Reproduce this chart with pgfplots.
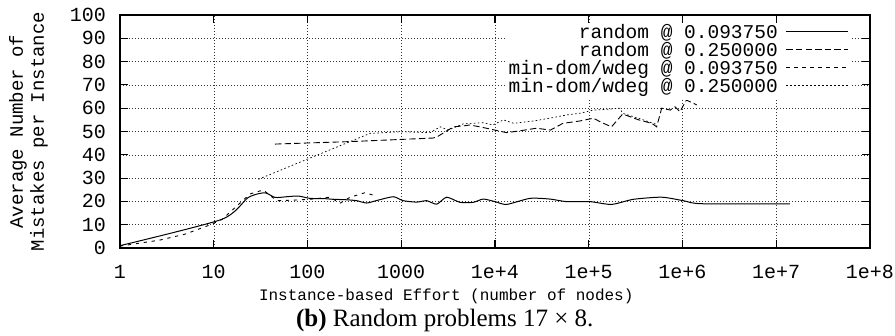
\documentclass[border=0pt]{standalone}
\usepackage{pgfplots}
\pgfplotsset{compat=1.18}
\usepackage{fontspec}
\setmainfont{Liberation Serif}
\newfontfamily\mono{Liberation Mono}

\begin{document}
\begin{tikzpicture}
\useasboundingbox (0,0) rectangle (895pt,336pt);
\begin{axis}[
  at={(120pt,88pt)}, anchor=south west,
  scale only axis, width=750pt, height=233pt,
  clip mode=individual,
  xmode=log, xmin=1, xmax=1e8, ymin=0, ymax=100,
  xtick={1,10,100,1000,1e4,1e5,1e6,1e7,1e8},
  xticklabels={1,10,100,1000,1e+4,1e+5,1e+6,1e+7,1e+8},
  ytick={0,10,...,100},
  xminorticks=false, yminorticks=false,
  tick align=inside, major tick length=8pt,
  every tick/.style={black, line width=1.1pt},
  axis line style={line width=1.6pt},
  grid=major,
  major grid style={black!80, line width=0.5pt, dash pattern=on 1pt off 2pt},
  /pgf/number format/assume math mode=true,
  ticklabel style={font=\mono\fontsize{20}{20}\selectfont},
  xticklabel style={inner sep=0pt, yshift=-17pt},
  yticklabel style={inner sep=0pt, xshift=-14pt},
  ylabel={Average Number of\\Mistakes per Instance},
  ylabel style={align=center, font=\mono\fontsize{19}{21}\selectfont, at={(axis description cs:-0.122,0.5)}, anchor=center},
  xlabel={Instance-based Effort (number of nodes)},
  xlabel style={font=\mono\fontsize{16}{16}\selectfont, at={(axis description cs:0.435,-0.206)}, anchor=center},
  legend style={at={(0.9747,0.96)}, anchor=north east, draw=none, fill=white, inner sep=2pt,
    font=\mono\fontsize{19.5}{19.5}\selectfont, row sep=0pt, column sep=8pt,
    nodes={inner sep=0pt, text height=12.3pt, text depth=5.6pt}},
  legend cell align=right, legend plot pos=right,
  legend image code/.code={\draw[#1] (0pt,4pt) -- (62pt,4pt);},
]
\addplot[black, line width=1pt, smooth, tension=0.4] table {
x y
1 1
12.2 12.3
23.4 21.7
35 23.7
45 21.7
60 22.0
80 22.3
106 21.3
150 21.2
187 20.9
260 20.7
335 20.3
427 19.3
550 20.4
822 22.0
1050 20.3
1460 19.7
1870 20.3
2390 18.8
3050 21.8
4230 19.6
5870 19.6
7500 21.0
1e4 19.9
1.33e4 18.7
2.36e4 21.3
3.86e4 21.0
5.8e4 19.9
1.03e5 19.9
1.75e5 18.7
3e5 20.9
6e5 21.8
1.02e6 20.3
1.6e6 19.0
1.4e7 18.9
};
\addlegendentry{random @ 0.093750}
\addplot[black, line width=0.9pt, dash pattern=on 6.4pt off 3.2pt] table {
x y
45 44.6
300 45.7
1000 46.6
2200 47.2
2480 48.0
3600 52.0
4600 52.4
5400 52.8
6900 52.0
8100 51.4
1.33e4 49.5
1.85e4 50.3
2.77e4 51.4
3.9e4 50.6
5.3e4 53.5
8e4 54.5
1.12e5 55.7
1.38e5 53.8
1.75e5 52.0
2.3e5 57.5
3.4e5 55.0
4.7e5 53.5
5.3e5 52.0
6e5 60.0
7.4e5 59.2
8.3e5 60.6
9.4e5 58.5
1.1e6 63.5
1.42e6 61.4
};
\addlegendentry{random @ 0.250000}
\addplot[black, line width=0.9pt, dash pattern=on 3.2pt off 4.8pt] table {
x y
1 0.8
2.67 3.4
5 6.0
9.1 9.9
12.3 12.3
24.4 23.2
33.7 24.9
47 20.3
77 20.6
106 20.9
174 21.8
222 19.2
285 21.8
408 23.7
550 22.3
};
\addlegendentry{min-dom/wdeg @ 0.093750}
\addplot[black, line width=0.7pt, dash pattern=on 1.6pt off 2.4pt] table {
x y
30 29.5
465 49.2
1000 49.9
2030 49.5
2600 52.0
3160 50.6
4600 53.3
7500 53.8
9500 52.8
1.23e4 55.0
1.58e4 53.5
2.57e4 54.5
4.2e4 56.0
5.8e4 57.1
8e4 57.8
1.12e5 59.2
1.55e5 59.5
2.15e5 60.0
2.3e5 57.8
3.5e5 55.5
5.3e5 53.0
};
\addlegendentry{min-dom/wdeg @ 0.250000}
\node[font=\fontsize{25}{25}\selectfont] at (axis description cs:0.433,-0.313) {\textbf{(b)} Random problems 17 × 8.};
\end{axis}
\end{tikzpicture}
\end{document}
